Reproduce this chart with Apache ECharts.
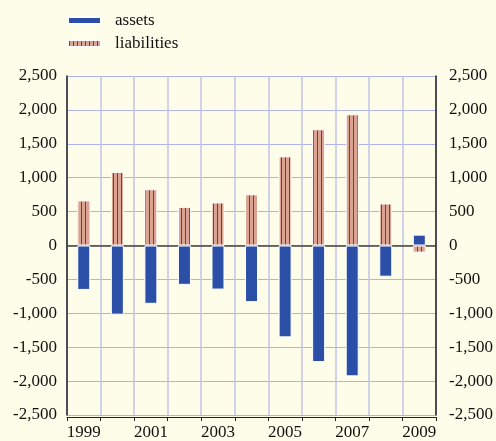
<!DOCTYPE html>
<html>
<head>
<meta charset="utf-8">
<script src="https://cdn.jsdelivr.net/npm/echarts@6/dist/echarts.min.js"></script>
<style>
html,body{margin:0;padding:0;background:#fefde9;}
#chart{width:496px;height:441px;}
</style>
</head>
<body>
<div id="chart"></div>
<script>
const categories = ['1999','2000','2001','2002','2003','2004','2005','2006','2007','2008','2009'];
const assets = [-655, -1020, -860, -580, -650, -835, -1355, -1720, -1930, -460, 160];
const liabilities = [665, 1085, 830, 570, 635, 755, 1315, 1715, 1935, 620, -105];
const yTicks = { min: -2500, max: 2500, interval: 500 };

function stripePattern() {
  const c = document.createElement('canvas');
  c.width = 4; c.height = 4;
  const ctx = c.getContext('2d');
  ctx.fillStyle = '#dba392';
  ctx.fillRect(0, 0, 4, 4);
  ctx.fillStyle = '#aa2a1e';
  ctx.fillRect(1, 0, 1, 4);
  return c;
}
const pat = { image: stripePattern(), repeat: 'repeat' };

const font = '"Liberation Serif", "Times New Roman", serif';
const fmt = v => v.toLocaleString('en-US');

const chart = echarts.init(document.getElementById('chart'));
chart.setOption({
  backgroundColor: '#fefde9',
  animation: false,
  textStyle: { fontFamily: font },
  legend: {
    orient: 'vertical', left: 67, top: 12, padding: 0,
    itemWidth: 33, itemHeight: 7, itemGap: 6,
    textStyle: { fontFamily: font, fontSize: 17, color: '#111', lineHeight: 17, padding: [0, 0, 0, 9] },
    data: [
      { name: 'assets', icon: 'rect' },
      { name: 'liabilities', icon: 'rect' }
    ]
  },
  grid: { left: 67, right: 56, top: 76, bottom: 25 },
  xAxis: [
    {
      type: 'category', data: categories, position: 'bottom', offset: 2,
      axisLine: { onZero: false, lineStyle: { color: '#222', width: 1 } },
      axisTick: { show: true, interval: 0, length: 4, lineStyle: { color: '#222' } },
      axisLabel: { interval: 1, margin: 7, fontFamily: font, fontSize: 17, color: '#111' },
      splitLine: { show: true, interval: 0, lineStyle: { color: '#c0c3e8', width: 1.5 } }
    },
    {
      type: 'category', data: categories, position: 'bottom',
      axisLine: { onZero: true, lineStyle: { color: '#444', width: 1.5 } },
      axisTick: { show: false }, axisLabel: { show: false }, splitLine: { show: false }
    }
  ],
  yAxis: [
    {
      type: 'value', min: yTicks.min, max: yTicks.max, interval: yTicks.interval, position: 'left',
      axisLine: { show: true, lineStyle: { color: '#222', width: 1.5 } },
      axisTick: { show: false },
      axisLabel: { margin: 10, fontFamily: font, fontSize: 17, color: '#111', formatter: fmt },
      splitLine: { show: true, lineStyle: { color: '#aeb2e8', width: 1 } }
    },
    {
      type: 'value', min: yTicks.min, max: yTicks.max, interval: yTicks.interval, position: 'right',
      axisLine: { show: true, lineStyle: { color: '#222', width: 1.5 } },
      axisTick: { show: false },
      axisLabel: { margin: 13, fontFamily: font, fontSize: 17, color: '#111', formatter: fmt },
      splitLine: { show: false }
    }
  ],
  series: [
    {
      name: 'assets', type: 'bar', stack: 'a', data: assets, barWidth: 13,
      itemStyle: { color: '#2b4ea7', borderColor: '#ffffff', borderWidth: 1 }
    },
    {
      name: 'liabilities', type: 'bar', stack: 'a', data: liabilities, barWidth: 13,
      itemStyle: { color: pat, borderColor: '#ffffff', borderWidth: 1 }
    }
  ]
});
</script>
</body>
</html>
